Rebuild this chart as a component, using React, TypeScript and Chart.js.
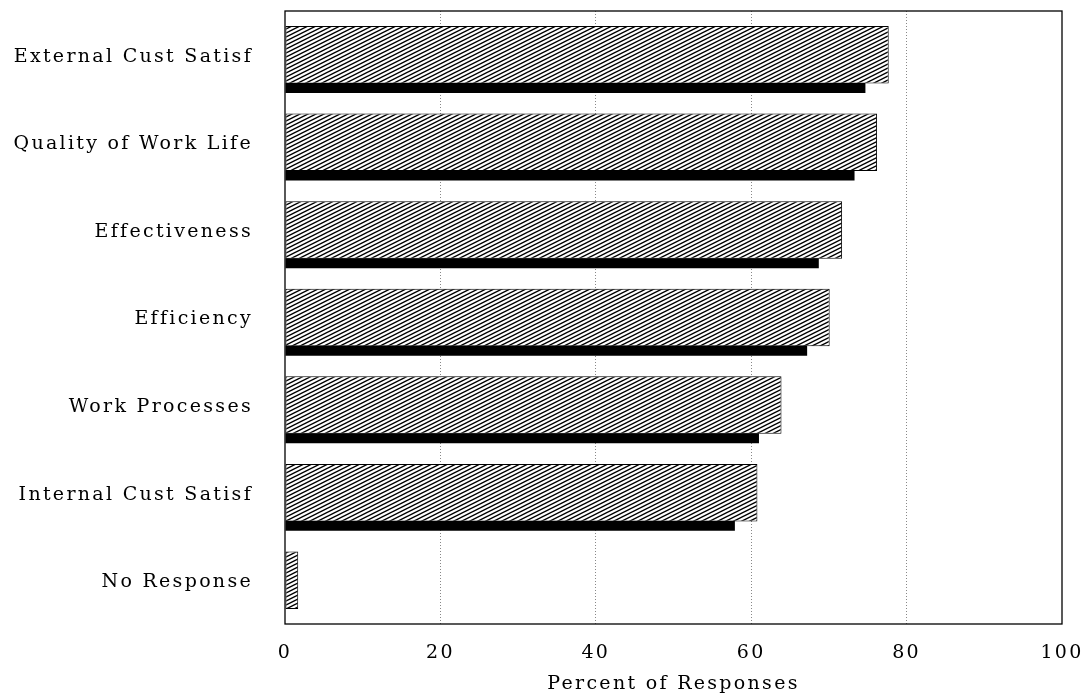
import React, { useEffect, useRef } from "react";
import { Chart, registerables } from "chart.js";

Chart.register(...registerables);

const categories = [
  "External Cust Satisf",
  "Quality of Work Life",
  "Effectiveness",
  "Efficiency",
  "Work Processes",
  "Internal Cust Satisf",
  "No Response",
];
const hatchedValues = [77.7, 76.2, 71.7, 70.1, 63.9, 60.8, 1.7];
const solidValues = [74.7, 73.3, 68.7, 67.2, 61.0, 57.9, 0];
const xMin = 0;
const xMax = 100;
const xStep = 20;
const xTitle = "Percent of Responses";

const FONT = "'DejaVu Serif', serif";
const SPACING = "2.3px";

function makeHatch(): CanvasPattern | string {
  const c = document.createElement("canvas");
  c.width = 8;
  c.height = 4;
  const g = c.getContext("2d");
  if (!g) return "#888";
  g.fillStyle = "#fff";
  g.fillRect(0, 0, 8, 4);
  g.strokeStyle = "#000";
  g.lineWidth = 1.4;
  g.beginPath();
  for (const dy of [-4, 0, 4]) {
    g.moveTo(-1, 4.5 + dy);
    g.lineTo(9, -0.5 + dy);
  }
  g.stroke();
  return g.createPattern(c, "repeat") || "#888";
}

const spacingPlugin = {
  id: "spacing",
  beforeInit(chart: any) {
    chart.ctx.letterSpacing = SPACING;
  },
  beforeUpdate(chart: any) {
    chart.ctx.letterSpacing = SPACING;
  },
  beforeLayout(chart: any) {
    chart.ctx.letterSpacing = SPACING;
  },
  beforeDraw(chart: any) {
    chart.ctx.letterSpacing = SPACING;
  },
};

const framePlugin = {
  id: "frame",
  afterDraw(chart: any) {
    const { ctx, chartArea } = chart;
    ctx.save();
    ctx.strokeStyle = "#000";
    ctx.lineWidth = 1.3;
    ctx.strokeRect(chartArea.left, chartArea.top, chartArea.right - chartArea.left, chartArea.bottom - chartArea.top);
    ctx.restore();
  },
};

export default function App() {
  const ref = useRef<HTMLCanvasElement | null>(null);

  useEffect(() => {
    if (!ref.current) return;
    const hatch = makeHatch();
    const chart = new Chart(ref.current, {
      type: "bar",
      data: {
        labels: categories,
        datasets: [
          {
            label: "",
            data: [],
            stack: "s0",
            backgroundColor: "transparent",
          },
          {
            label: "hatched",
            data: hatchedValues,
            stack: "s1",
            backgroundColor: hatch as any,
            borderColor: "#000",
            borderWidth: 1,
            borderSkipped: false,
            categoryPercentage: 1,
            barPercentage: 1.97,
          },
          {
            label: "solid",
            data: solidValues,
            stack: "s2",
            backgroundColor: "#000",
            borderWidth: 0,
            categoryPercentage: 1.1375,
            barPercentage: 0.301,
          },
        ],
      },
      options: {
        indexAxis: "y",
        responsive: false,
        animation: false,
        devicePixelRatio: 1,
        layout: { padding: { left: 0, top: 11, right: 22, bottom: 0 } },
        plugins: {
          legend: { display: false },
          tooltip: { enabled: false },
        },
        scales: {
          y: {
            type: "category",
            grid: { display: false, drawTicks: false },
            border: { display: false },
            ticks: {
              color: "#000",
              padding: 32,
              labelOffset: 2,
              font: { family: FONT, size: 19 },
            },
            afterFit(scale: any) {
              scale.width = 285;
              scale.paddingTop = 0;
              scale.paddingBottom = 0;
            },
          },
          x: {
            type: "linear",
            min: xMin,
            max: xMax,
            ticks: {
              stepSize: xStep,
              color: "#000",
              padding: 18,
              maxRotation: 0,
              font: { family: FONT, size: 19 },
            },
            grid: {
              drawTicks: false,
              color: (ctx: any) =>
                ctx.tick && (ctx.tick.value === xMin || ctx.tick.value === xMax) ? "rgba(0,0,0,0)" : "#888",
              lineWidth: 1,
            },
            border: { display: false, dash: [1, 2] },
            title: {
              display: true,
              text: xTitle,
              color: "#000",
              font: { family: FONT, size: 19 },
              padding: { top: 0, bottom: 3 },
            },
            afterFit(scale: any) {
              scale.height = 74;
              scale.paddingLeft = 0;
              scale.paddingRight = 0;
            },
          },
        },
      },
      plugins: [spacingPlugin, framePlugin],
    });
    return () => chart.destroy();
  }, []);

  return (
    <div style={{ position: "absolute", left: 0, top: 0, width: 1084, height: 698, background: "#fff" }}>
      <canvas ref={ref} width={1084} height={698} style={{ display: "block", width: 1084, height: 698 }} />
    </div>
  );
}
